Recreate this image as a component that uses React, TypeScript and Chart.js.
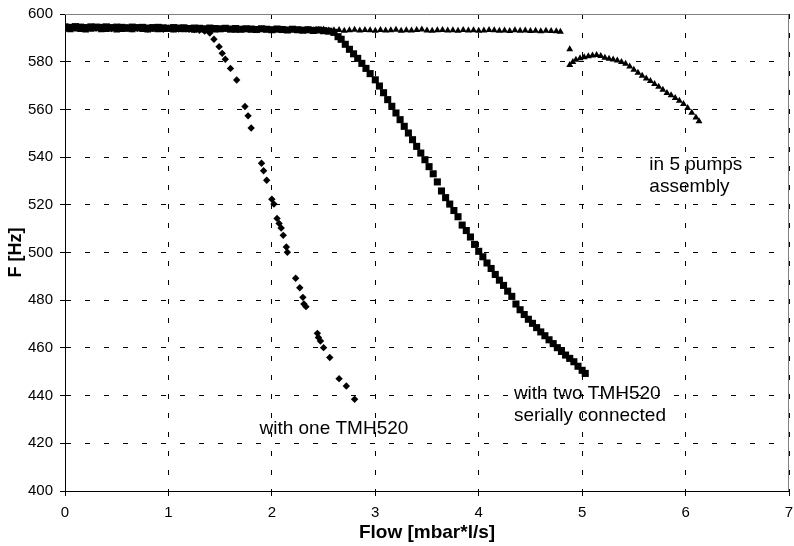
import React, { useEffect, useRef } from "react";
import { Chart, registerables } from "chart.js";

Chart.register(...registerables);

// ---- data -------------------------------------------------------------
// x: Flow [mbar*l/s], F: frequency [Hz]

// with one TMH520 (diamonds)
const oneX = [
  0, 0.05, 0.1, 0.15, 0.2, 0.25, 0.3, 0.35, 0.4, 0.45, 0.5, 0.55, 0.6, 0.65, 0.7, 0.75, 0.8, 0.85, 0.9, 0.95,
  1.0, 1.05, 1.1, 1.15, 1.2, 1.25, 1.3, 1.35, 1.4,
  1.44, 1.49, 1.52, 1.55, 1.6, 1.66, 1.74, 1.77, 1.8, 1.9, 1.92, 1.95, 2.0, 2.02, 2.05, 2.07, 2.09, 2.11, 2.14,
  2.15, 2.23, 2.27, 2.3, 2.31, 2.33, 2.44, 2.45, 2.47, 2.5, 2.56, 2.65, 2.72, 2.8,
];
const oneF = [
  594.3, 594.1, 594.4, 594.0, 594.2, 594.3, 594.1, 594.0, 594.2, 593.9, 594.1, 594.0, 594.3, 593.8, 594.0, 594.1,
  593.7, 594.0, 593.9, 593.6, 594.0, 593.8, 593.7, 594.1, 593.6, 593.5, 593.2, 592.8, 592.0,
  589.4, 586.3, 583.5, 581.0, 577.2, 572.3, 561.2, 557.3, 552.2, 537.4, 534.3, 530.3, 522.3, 520.3, 514.3, 512.2,
  510.3, 507.2, 502.3, 500.1, 489.2, 485.2, 481.2, 478.4, 477.3, 466.1, 464.4, 462.9, 460.1, 456.0, 447.1, 444.0,
  438.5,
];

// with two TMH520 serially connected (squares)
const twoX = [
  0, 0.05, 0.1, 0.15, 0.2, 0.25, 0.3, 0.35, 0.4, 0.45, 0.5, 0.55, 0.6, 0.65, 0.7, 0.75, 0.8, 0.85, 0.9, 0.95,
  1.0, 1.05, 1.1, 1.15, 1.2, 1.25, 1.3, 1.35, 1.4, 1.45, 1.5, 1.55, 1.6, 1.65, 1.7, 1.75, 1.8, 1.85, 1.9, 1.95,
  2.0, 2.05, 2.1, 2.15, 2.2, 2.25, 2.3, 2.35, 2.4, 2.45, 2.5, 2.55, 2.6,
  2.64, 2.67, 2.71, 2.75, 2.79, 2.83, 2.87, 2.91, 2.95, 3.0, 3.04, 3.08, 3.12, 3.16, 3.2, 3.24, 3.28, 3.32, 3.36,
  3.4, 3.44, 3.48, 3.52, 3.56, 3.6, 3.64, 3.68, 3.72, 3.76, 3.8, 3.84, 3.88, 3.92, 3.96, 4.0, 4.04, 4.08, 4.12,
  4.16, 4.2, 4.24, 4.28, 4.32, 4.36, 4.4, 4.44, 4.48, 4.52, 4.56, 4.6, 4.64, 4.68, 4.72, 4.76, 4.8, 4.84, 4.88,
  4.92, 4.96, 5.0, 5.03,
];
const twoF = [
  594.6, 594.4, 594.7, 594.5, 594.3, 594.6, 594.5, 594.4, 594.6, 594.3, 594.5, 594.4, 594.2, 594.5, 594.3, 594.4,
  594.1, 594.3, 594.4, 594.2, 594.0, 594.3, 594.1, 594.2, 593.9, 594.1, 594.0, 593.8, 594.1, 593.9, 593.8, 594.0,
  593.7, 593.9, 593.6, 593.8, 593.7, 593.5, 593.8, 593.6, 593.4, 593.7, 593.5, 593.3, 593.6, 593.4, 593.2, 593.4,
  593.1, 593.3, 593.0, 592.8, 592.3,
  590.5, 589.4, 587.3, 585.2, 583.3, 581.4, 579.3, 577.2, 575.0, 572.4, 569.8, 567.0, 564.1, 561.3, 558.5, 555.7,
  552.9, 550.1, 547.3, 544.5, 541.7, 538.9, 536.0, 533.0, 529.6, 525.8, 523.0, 520.3, 517.6, 515.0, 511.5, 509.2,
  506.5, 503.4, 500.5, 498.2, 495.6, 493.3, 490.8, 488.4, 486.2, 483.8, 481.6, 478.4, 476.0, 474.0, 472.0, 470.3,
  468.5, 466.7, 465.1, 463.4, 461.8, 460.1, 458.5, 457.0, 455.6, 454.2, 452.3, 450.6, 449.3,
];

// in 5 pumps assembly (triangles)
const fiveX = [
  0, 0.05, 0.1, 0.15, 0.2, 0.25, 0.3, 0.35, 0.4, 0.45, 0.5, 0.55, 0.6, 0.65, 0.7, 0.75, 0.8, 0.85, 0.9, 0.95,
  1.0, 1.05, 1.1, 1.15, 1.2, 1.25, 1.3, 1.35, 1.4, 1.45, 1.5, 1.55, 1.6, 1.65, 1.7, 1.75, 1.8, 1.85, 1.9, 1.95,
  2.0, 2.05, 2.1, 2.15, 2.2, 2.25, 2.3, 2.35, 2.4, 2.45, 2.5, 2.55, 2.6, 2.65, 2.7, 2.75, 2.8, 2.85, 2.9, 2.95,
  3.0, 3.05, 3.1, 3.15, 3.2, 3.25, 3.3, 3.35, 3.4, 3.45, 3.5, 3.55, 3.6, 3.65, 3.7, 3.75, 3.8, 3.85, 3.9, 3.95,
  4.0, 4.05, 4.1, 4.15, 4.2, 4.25, 4.3, 4.35, 4.4, 4.45, 4.5, 4.55, 4.6, 4.65, 4.7, 4.75, 4.79,
  4.88, 4.88, 4.91, 4.94, 4.98, 5.02, 5.06, 5.1, 5.14, 5.18, 5.22, 5.26, 5.3, 5.34, 5.38, 5.42, 5.46, 5.5, 5.54,
  5.58, 5.62, 5.66, 5.7, 5.74, 5.78, 5.82, 5.86, 5.9, 5.94, 5.98, 6.02, 6.06, 6.1, 6.13,
];
const fiveF = [
  593.4, 593.2, 593.5, 593.3, 593.1, 593.4, 593.6, 593.2, 593.3, 593.5, 593.1, 593.3, 593.4, 593.2, 593.6, 593.3,
  593.1, 593.4, 593.2, 593.3, 593.5, 593.1, 593.3, 593.2, 593.4, 593.0, 593.3, 593.2, 593.4, 593.1, 593.3, 593.5,
  593.2, 593.0, 593.3, 593.4, 593.1, 593.2, 593.6, 593.3, 593.1, 593.2, 593.4, 593.0, 593.3, 593.2, 593.1, 593.4,
  593.2, 593.3, 593.5, 593.1, 593.2, 593.3, 593.0, 593.2, 593.4, 593.1, 593.3, 593.2, 593.0, 593.3, 593.1, 593.2,
  593.4, 593.0, 593.2, 593.1, 593.3, 593.5, 593.1, 593.0, 593.2, 593.3, 593.1, 593.2, 593.0, 593.3, 593.1, 593.2,
  593.0, 593.1, 593.3, 593.2, 593.0, 593.1, 592.9, 593.2, 593.0, 593.1, 592.9, 593.0, 592.8, 593.0, 592.9, 592.8,
  592.6,
  585.2, 578.6, 579.9, 580.8, 581.4, 581.9, 582.3, 582.6, 582.8, 582.4, 581.7, 581.2, 580.9, 580.5, 579.9, 579.1,
  578.0, 576.6, 575.4, 574.1, 573.0, 571.9, 570.7, 569.5, 568.2, 566.9, 565.9, 564.8, 563.6, 562.3, 560.6, 558.6,
  556.6, 555.0,
];

// axis settings
const xMin = 0;
const xMax = 7;
const xStep = 1;
const yMin = 400;
const yMax = 600;
const yStep = 20;
const xTitle = "Flow [mbar*l/s]";
const yTitle = "F [Hz]";

// annotations: text lines, anchor in data coordinates (left, baseline of first line), line gap in px
const notes = [
  { lines: ["with one TMH520"], x: 1.88, y: 424, gap: 22 },
  { lines: ["with two TMH520", "serially connected"], x: 4.34, y: 438.6, gap: 22 },
  { lines: ["in 5 pumps", "assembly"], x: 5.65, y: 534.8, gap: 22 },
];

const FONT = "'Liberation Sans', Arial, sans-serif";

export default function App() {
  const ref = useRef<HTMLCanvasElement | null>(null);

  useEffect(() => {
    document.body.style.margin = "0";
    const canvas = ref.current;
    if (!canvas) return;
    const pts = (xs: number[], ys: number[]) => xs.map((x, i) => ({ x, y: ys[i] }));

    const framePlugin = {
      id: "frame",
      beforeDatasetsDraw(chart: any) {
        const { ctx, chartArea } = chart;
        ctx.save();
        ctx.strokeStyle = "#808080";
        ctx.lineWidth = 1;
        ctx.setLineDash([]);
        ctx.beginPath();
        const t = Math.round(chartArea.top) + 0.5;
        const r = Math.round(chartArea.right) - 0.5;
        ctx.moveTo(Math.round(chartArea.left), t);
        ctx.lineTo(r, t);
        ctx.lineTo(r, Math.round(chartArea.bottom));
        ctx.stroke();
        ctx.restore();
      },
    };

    const notesPlugin = {
      id: "notes",
      afterDatasetsDraw(chart: any) {
        const { ctx, scales } = chart;
        ctx.save();
        ctx.fillStyle = "#000";
        ctx.font = `19px ${FONT}`;
        ctx.textAlign = "left";
        ctx.textBaseline = "alphabetic";
        for (const n of notes) {
          const px = scales.x.getPixelForValue(n.x);
          const py = scales.y.getPixelForValue(n.y);
          n.lines.forEach((line, i) => ctx.fillText(line, px, py + i * n.gap));
        }
        ctx.restore();
      },
    };

    const chart = new Chart(canvas, {
      type: "scatter",
      data: {
        datasets: [
          {
            label: "with one TMH520",
            data: pts(oneX, oneF),
            pointStyle: "rectRot",
            pointRadius: 3.7,
            backgroundColor: "#000",
            borderColor: "#000",
            borderWidth: 0,
          },
          {
            label: "with two TMH520 serially connected",
            data: pts(twoX, twoF),
            pointStyle: "rect",
            pointRadius: 5,
            backgroundColor: "#000",
            borderColor: "#000",
            borderWidth: 0,
          },
          {
            label: "in 5 pumps assembly",
            data: pts(fiveX, fiveF),
            pointStyle: "triangle",
            pointRadius: 4,
            backgroundColor: "#000",
            borderColor: "#000",
            borderWidth: 0,
          },
        ],
      },
      options: {
        responsive: false,
        animation: false,
        layout: { padding: { left: 5, right: 4, top: 14, bottom: 0 } },
        plugins: {
          legend: { display: false },
          tooltip: { enabled: false },
        },
        scales: {
          x: {
            type: "linear",
            min: xMin,
            max: xMax,
            ticks: { stepSize: xStep, color: "#000", font: { family: FONT, size: 15 }, padding: 8 },
            grid: { color: "#000", lineWidth: 1, tickLength: 5, tickColor: "#000" },
            border: { display: true, color: "#000", width: 1, dash: [5, 14] },
            title: {
              display: true,
              text: xTitle,
              color: "#000",
              font: { family: FONT, size: 19, weight: "bold" },
              padding: { top: 0, bottom: 2 },
            },
            afterFit: (s: any) => {
              s.height = 55;
              s.paddingLeft = 0;
              s.paddingRight = 0;
            },
          },
          y: {
            type: "linear",
            min: yMin,
            max: yMax,
            ticks: { stepSize: yStep, color: "#000", font: { family: FONT, size: 15 }, padding: 7 },
            grid: { color: "#000", lineWidth: 1, tickLength: 5, tickColor: "#000" },
            border: { display: true, color: "#000", width: 1, dash: [5, 14] },
            title: {
              display: true,
              text: yTitle,
              color: "#000",
              font: { family: FONT, size: 18, weight: "bold" },
              padding: { top: 0, bottom: 0 },
            },
            afterFit: (s: any) => {
              s.width = 60;
              s.paddingTop = 0;
              s.paddingBottom = 0;
            },
          },
        },
      },
      plugins: [framePlugin, notesPlugin],
    } as any);

    return () => chart.destroy();
  }, []);

  return <canvas ref={ref} width={794} height={546} style={{ display: "block" }} />;
}
